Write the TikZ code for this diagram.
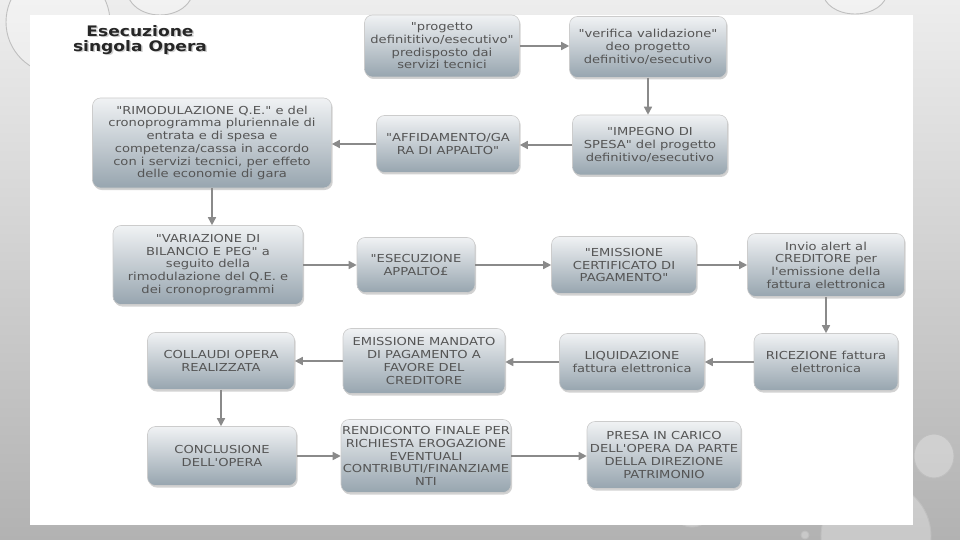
\documentclass[tikz,border=0pt]{standalone}
\usepackage{fontspec}
\usetikzlibrary{arrows.meta,shadows}
\newfontfamily\boxfnt[FakeStretch=1.19]{DejaVu Sans}
\newfontfamily\titlefnt[FakeStretch=1.18,BoldFont={DejaVu Sans Bold}]{DejaVu Sans}
\definecolor{boxtop}{HTML}{F0F2F4}
\definecolor{boxbot}{HTML}{97A5AF}
\definecolor{boxtxt}{HTML}{555555}
\definecolor{linec}{HTML}{8A8A8A}
\definecolor{bgtop}{HTML}{EDEDED}
\definecolor{bgbot}{HTML}{B2B2B2}
\tikzset{
  stepbox/.style={rounded corners=8pt, draw=gray!40, line width=0.6pt,
    top color=boxtop, bottom color=boxbot, text=boxtxt, align=center,
    inner sep=1pt, font=\boxfnt\fontsize{11}{12.7}\selectfont,
    drop shadow={shadow xshift=1.2pt, shadow yshift=-2pt, opacity=0.35}},
  flow/.style={draw=linec, line width=1.5pt, -{Triangle[width=8pt,length=8pt]}},
  drop/.style={draw=gray!50, line width=0.9pt, fill=white, fill opacity=0.3},
}
\begin{document}
\begin{tikzpicture}[x=1pt,y=-1pt]
\useasboundingbox (0,0) rectangle (960,540);
% background
\shade[top color=bgtop, bottom color=bgbot] (0,0) rectangle (960,540);
% droplets
\path[drop] (58,22) ellipse (52pt and 52pt);
\path[drop] (160,-10) ellipse (33pt and 25pt);
\path[drop] (855,-8) ellipse (32pt and 22pt);
\path[drop] (934,456) ellipse (20pt and 22pt);
\path[drop] (876,536) circle (55pt);
\path[drop] (692,505) circle (22pt);
\path[drop] (805,535) circle (4pt);
% white panel
\fill[white] (30,15) rectangle (913,525);
% title
\node[text=gray!60, opacity=0.6, align=center, font=\titlefnt\bfseries\fontsize{14.5}{15}\selectfont] at (141.5,41.5) {Esecuzione\\singola Opera};
\node[text=black!85, align=center, font=\titlefnt\bfseries\fontsize{14.5}{15}\selectfont] (title) at (140,40) {Esecuzione\\singola Opera};
% boxes
\node[stepbox, minimum width=155pt, minimum height=62pt] (p1) at (442,46) {"progetto\\definititivo/esecutivo"\\predisposto dai\\servizi tecnici};
\node[stepbox, minimum width=157pt, minimum height=61pt] (p2) at (648,47) {"verifica validazione"\\deo progetto\\definitivo/esecutivo};
\node[stepbox, minimum width=155pt, minimum height=60pt] (p3) at (650,145) {"IMPEGNO DI\\SPESA" del progetto\\definitivo/esecutivo};
\node[stepbox, minimum width=143pt, minimum height=57pt] (p4) at (448,144) {"AFFIDAMENTO/GA\\RA DI APPALTO"};
\node[stepbox, minimum width=239pt, minimum height=90pt] (p5) at (212,143) {"RIMODULAZIONE Q.E." e del\\cronoprogramma pluriennale di\\entrata e di spesa e\\competenza/cassa in accordo\\con i servizi tecnici, per effeto\\delle economie di gara};
\node[stepbox, minimum width=190pt, minimum height=79pt] (p6) at (208,265) {"VARIAZIONE DI\\BILANCIO E PEG" a\\seguito della\\rimodulazione del Q.E. e\\dei cronoprogrammi};
\node[stepbox, minimum width=118pt, minimum height=55pt] (p7) at (416,265) {"ESECUZIONE\\APPALTO£};
\node[stepbox, minimum width=145pt, minimum height=57pt] (p8) at (624,265) {"EMISSIONE\\CERTIFICATO DI\\PAGAMENTO"};
\node[stepbox, minimum width=157pt, minimum height=63pt] (p9) at (826,265) {Invio alert al\\CREDITORE per\\l'emissione della\\fattura elettronica};
\node[stepbox, minimum width=144pt, minimum height=57pt] (p10) at (826,362) {RICEZIONE fattura\\elettronica};
\node[stepbox, minimum width=145pt, minimum height=57pt] (p11) at (632,362) {LIQUIDAZIONE\\fattura elettronica};
\node[stepbox, minimum width=162pt, minimum height=65pt] (p12) at (424,361) {EMISSIONE MANDATO\\DI PAGAMENTO A\\FAVORE DEL\\CREDITORE};
\node[stepbox, minimum width=147pt, minimum height=57pt] (p13) at (221,361) {COLLAUDI OPERA\\REALIZZATA};
\node[stepbox, minimum width=149pt, minimum height=59pt] (p14) at (222,456) {CONCLUSIONE\\DELL'OPERA};
\node[stepbox, minimum width=168pt, minimum height=73pt] (p15) at (426,456) {RENDICONTO FINALE PER\\RICHIESTA EROGAZIONE\\EVENTUALI\\CONTRIBUTI/FINANZIAME\\NTI};
\node[stepbox, minimum width=154pt, minimum height=67pt] (p16) at (664,455) {PRESA IN CARICO\\DELL'OPERA DA PARTE\\DELLA DIREZIONE\\PATRIMONIO};
% connectors
\draw[flow] (p1.east) -- (p1.east -| p2.west);
\draw[flow] (p2.south) -- (p2.south |- p3.north);
\draw[flow] (p3.west) -- (p3.west -| p4.east);
\draw[flow] (p4.west) -- (p4.west -| p5.east);
\draw[flow] (p5.south) -- (p5.south |- p6.north);
\draw[flow] (p6.east) -- (p6.east -| p7.west);
\draw[flow] (p7.east) -- (p7.east -| p8.west);
\draw[flow] (p8.east) -- (p8.east -| p9.west);
\draw[flow] (p9.south) -- (p9.south |- p10.north);
\draw[flow] (p10.west) -- (p10.west -| p11.east);
\draw[flow] (p11.west) -- (p11.west -| p12.east);
\draw[flow] (p12.west) -- (p12.west -| p13.east);
\draw[flow] (p13.south) -- (p13.south |- p14.north);
\draw[flow] (p14.east) -- (p14.east -| p15.west);
\draw[flow] (p15.east) -- (p15.east -| p16.west);
\end{tikzpicture}
\end{document}
